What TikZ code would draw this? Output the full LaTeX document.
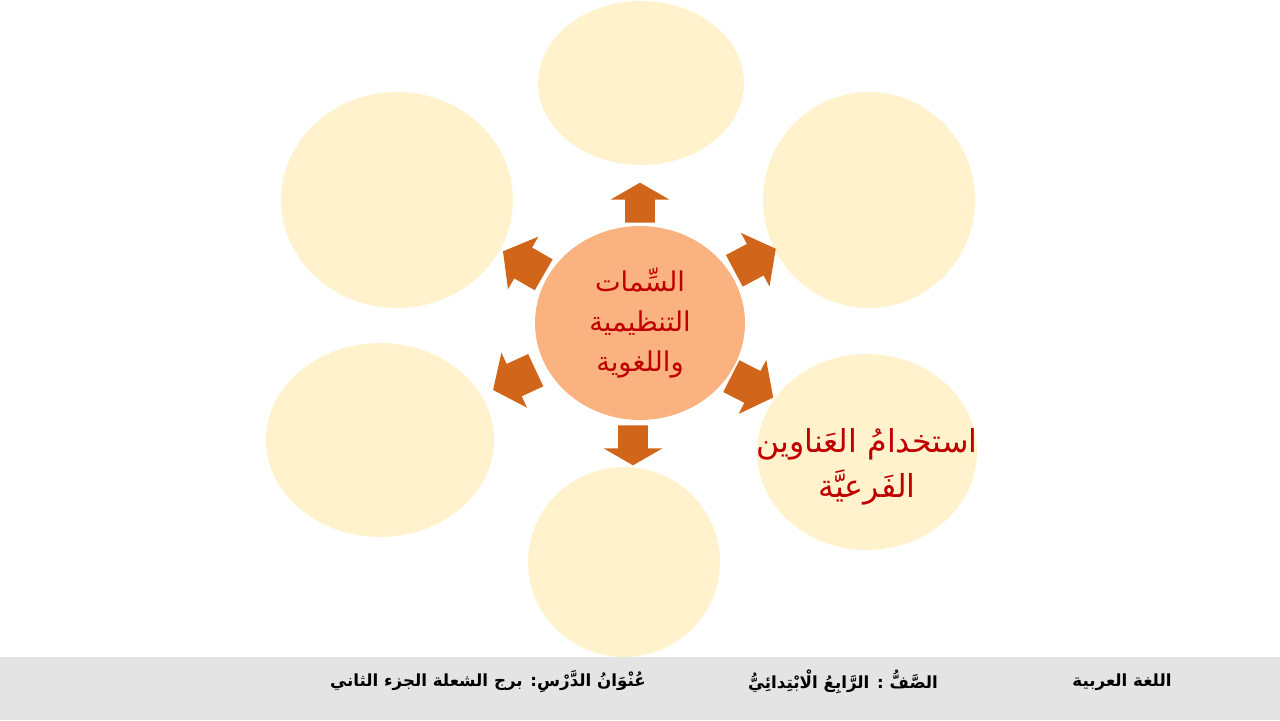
\documentclass[tikz,border=0pt]{standalone}
\usepackage{fontspec}
\usepackage{tikz}
\usetikzlibrary{arrows}
\usetikzlibrary{shapes, positioning, calc}
\TeXXeTstate=1
\newfontfamily\arabicfont[Script=Arabic]{DejaVu Sans}
\definecolor{sheet}{RGB}{255,242,204}
\definecolor{hub}{RGB}{250,178,128}
\definecolor{pointer}{RGB}{209,101,26}
\definecolor{ink}{RGB}{192,0,0}
\definecolor{band}{RGB}{228,228,228}

\begin{document}
\begin{tikzpicture}[x=0.02cm,y=0.02cm,
  main node/.style={ellipse,fill=sheet,inner sep=0pt},
  hub node/.style={ellipse,fill=hub,inner sep=0pt,text=ink,align=center,
    font=\arabicfont\fontsize{15.5}{23}\selectfont},
  txt node/.style={text=ink,align=center,inner sep=0pt,
    font=\arabicfont\fontsize{18}{26}\selectfont},
  arr node/.style={single arrow,fill=pointer,inner xsep=0pt,anchor=tail},
  vert arr/.style={inner ysep=0.29cm,minimum height=0.8cm,
    single arrow head extend=0.29cm,single arrow tip angle=120},
  diag arr/.style={inner ysep=0.35cm,minimum height=0.94cm,
    single arrow head extend=0.25cm,single arrow tip angle=105},
  foot node/.style={font=\arabicfont\bfseries\fontsize{9.5}{12}\selectfont}]
  \useasboundingbox (0,0) rectangle (1280,720);
  \fill[band] (0,0) rectangle (1280,63);
  \node[main node, minimum width=4.12cm, minimum height=3.28cm] (1) at (641,637) {};
  \node[main node, minimum width=4.24cm, minimum height=4.32cm] (2) at (869,520) {};
  \node[main node, minimum width=4.4cm, minimum height=3.92cm] (3) at (867,268) {};
  \node[main node, minimum width=3.84cm, minimum height=3.8cm] (4) at (624,158) {};
  \node[main node, minimum width=4.56cm, minimum height=3.88cm] (5) at (380,280) {};
  \node[main node, minimum width=4.64cm, minimum height=4.32cm] (6) at (397,520) {};
  \node[hub node, minimum width=4.2cm, minimum height=3.88cm] (0) at (640,397)
    {\beginR السِّمات\endR\\\beginR التنظيمية\endR\\\beginR واللغوية\endR};
  \node[txt node] (t3) at (867,253)
    {\beginR استخدامُ العَناوين\endR\\\beginR الفَرعيَّة\endR};
  \foreach \x/\y/\a/\s in {640/497/90/vert arr, 734/449/28/diag arr, 731/344/-27/diag arr,
    633/295/-90/vert arr, 536/350/205/diag arr, 544/445/150/diag arr}
    \node[arr node, \s, rotate=\a] (a\x) at (\x,\y) {};
  \node[foot node] (f1) at (1122,38) {\beginR اللغة العربية\endR};
  \node[foot node] (f2) at (843,38) {\beginR الصَّفُّ : الرَّابِعُ الْابْتِدائِيُّ\endR};
  \node[foot node] (f3) at (488,38) {\beginR عُنْوَانُ الدَّرْسِ: برج الشعلة الجزء الثاني\endR};
\end{tikzpicture}
\end{document}
